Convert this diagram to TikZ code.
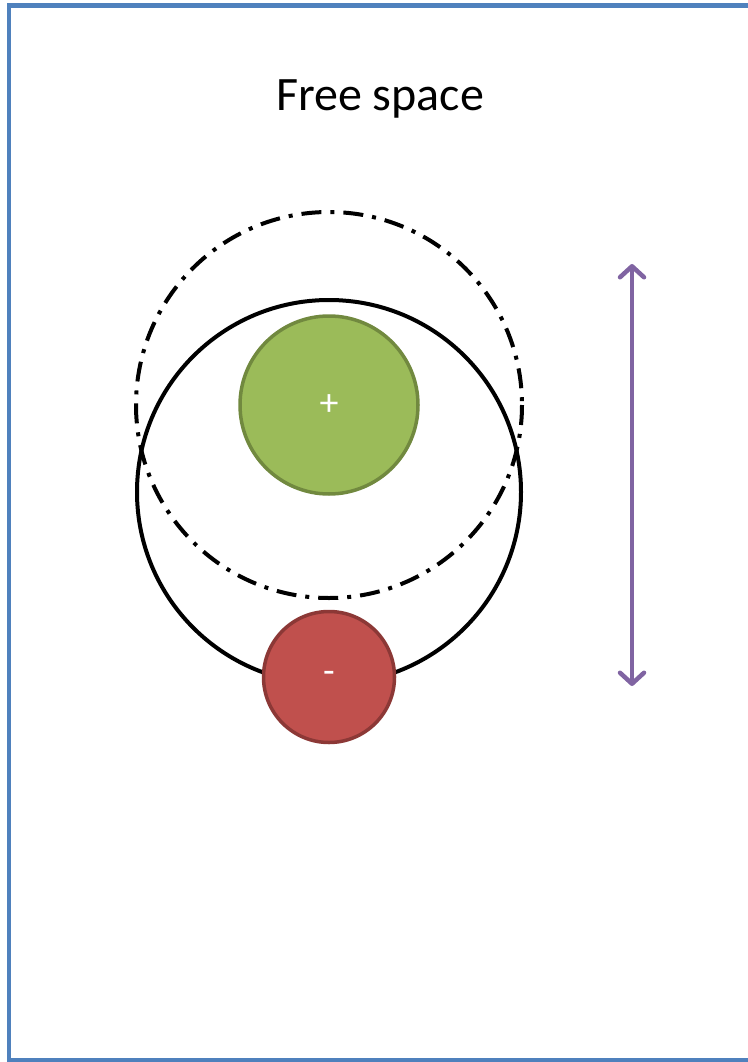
\documentclass[tikz,border=0pt]{standalone}
\usepackage{fontspec}
\setmainfont{Carlito}
\definecolor{frameblue}{HTML}{4F81BD}
\definecolor{posfill}{HTML}{9BBB59}
\definecolor{posline}{HTML}{71893F}
\definecolor{negfill}{HTML}{C0504D}
\definecolor{negline}{HTML}{8C3836}
\definecolor{arrowpurple}{HTML}{8064A2}
\usetikzlibrary{arrows.meta}
\begin{document}
\begin{tikzpicture}[x=1pt,y=-1pt,
  framebox/.style={draw=frameblue,line width=4.5pt},
  orbit/.style={draw=black,line width=4pt},
  shifted/.style={draw=black,line width=4pt,dash pattern=on 20pt off 9pt on 4pt off 9pt},
  poscharge/.style={circle,fill=posfill,draw=posline,line width=3.5pt,minimum size=178pt,inner sep=0pt,text=white,font=\fontsize{38}{40}\selectfont},
  negcharge/.style={circle,fill=negfill,draw=negline,line width=3.5pt,minimum size=131pt,inner sep=0pt,text=white,font=\fontsize{38}{40}\selectfont},
  motion/.style={draw=arrowpurple,line width=4.5pt,{Straight Barb[length=11pt,width=24pt,line cap=round,line join=round]}-{Straight Barb[length=11pt,width=24pt,line cap=round,line join=round]}}
]
\useasboundingbox (0,0) rectangle (747,1062);
\draw[framebox] (9,5.5) rectangle (760,1060);
\node[font=\fontsize{48}{54}\selectfont] (title) at (380,99) {Free space};
\draw[shifted] (329,405) circle[radius=193];
\draw[orbit] (329,492) circle[radius=192];
\node[poscharge] (plus) at (329,405) {+};
\node[negcharge] (minus) at (329,677) {-};
\coordinate (top) at (632,264);
\coordinate (bot) at (632,686);
\draw[motion] (top) -- (bot);
\end{tikzpicture}
\end{document}
